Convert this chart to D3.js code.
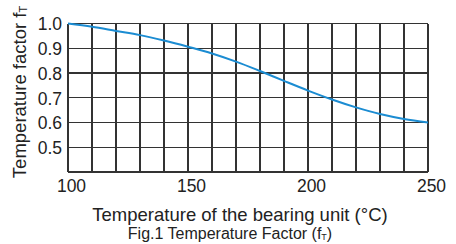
<!DOCTYPE html>
<meta charset="utf-8">
<head>
<title>Temperature factor</title>
</head>
<style>
body { margin: 0; background: #fff; }
text { font-family: "Liberation Sans", Arial, sans-serif; fill: #222; }
</style>
<body>
  <svg width="456" height="244"></svg>

  <script src="https://d3js.org/d3.v7.min.js"></script>
  <script>

  // temperature of the bearing unit (deg C) and the factor
  var temps = [100, 110, 120, 130, 140, 150, 160, 170, 180, 190, 200, 210, 220, 230, 240, 250];
  var factor = [1.0, 0.987, 0.97, 0.953, 0.931, 0.906, 0.879, 0.846, 0.808, 0.768, 0.729, 0.693, 0.661, 0.634, 0.614, 0.6];
  var xTicks = [100, 150, 200, 250];
  var yTicks = [0.5, 0.6, 0.7, 0.8, 0.9, 1.0];

  // plot box (note: "top" is reserved on window, so use plotTop)
  var plotLeft = 68, plotRight = 428, plotTop = 23.5, plotBottom = 172;

  var svg = d3.select('svg');

  var x = d3.scaleLinear().domain([100, 250]).range([plotLeft, plotRight]);
  var y = d3.scaleLinear().domain([0.4, 1.0]).range([plotBottom, plotTop]);

  // grid
  var grid = svg.append('g')
    .attr('stroke', '#333')
    .attr('stroke-width', 1.1)
    .attr('shape-rendering', 'crispEdges');

  grid.selectAll('.vline')
    .data(d3.range(100, 251, 10))
    .enter().append('line')
    .attr('x1', d => x(d)).attr('x2', d => x(d))
    .attr('y1', plotTop).attr('y2', plotBottom);

  grid.selectAll('.hline')
    .data(d3.range(0, 7).map(i => 0.4 + i * 0.1))
    .enter().append('line')
    .attr('x1', plotLeft).attr('x2', plotRight)
    .attr('y1', d => y(d)).attr('y2', d => y(d));

  // axes, only the labels show
  var xAxis = svg.append('g')
    .attr('transform', 'translate(3,' + plotBottom + ')')
    .call(d3.axisBottom(x).tickValues(xTicks).tickSize(0).tickPadding(8).tickFormat(d3.format('d')));
  var yAxis = svg.append('g')
    .attr('transform', 'translate(' + plotLeft + ',0)')
    .call(d3.axisLeft(y).tickValues(yTicks).tickSize(0).tickPadding(6).tickFormat(d3.format('.1f')));

  svg.selectAll('.domain').remove();
  svg.selectAll('.tick text')
    .attr('font-family', '"Liberation Sans", Arial, sans-serif')
    .attr('font-size', 17.5)
    .attr('fill', '#222');
  yAxis.selectAll('.tick text').attr('dy', '0.36em');

  // curve
  var line = d3.line()
    .x((d, i) => x(temps[i]))
    .y(d => y(d))
    .curve(d3.curveMonotoneX);

  svg.append('path')
    .datum(factor)
    .attr('d', line)
    .attr('fill', 'none')
    .attr('stroke', '#1b8cd2')
    .attr('stroke-width', 2);

  // titles
  var yt = svg.append('text')
    .attr('transform', 'translate(26,92) rotate(-90)')
    .attr('text-anchor', 'middle')
    .attr('font-size', 18.5);
  yt.append('tspan').text('Temperature factor f');
  yt.append('tspan').text('T').attr('font-size', 11).attr('dy', 1);

  svg.append('text')
    .attr('x', 240).attr('y', 221)
    .attr('text-anchor', 'middle')
    .attr('font-size', 18.5)
    .text('Temperature of the bearing unit (\u00b0C)');

  var cap = svg.append('text')
    .attr('x', 230).attr('y', 239)
    .attr('text-anchor', 'middle')
    .attr('font-size', 16);
  cap.append('tspan').text('Fig.1 Temperature Factor (f');
  cap.append('tspan').text('T').attr('font-size', 9).attr('dy', 1);
  cap.append('tspan').text(')').attr('dy', -1);

  </script>
</body>
</html>
